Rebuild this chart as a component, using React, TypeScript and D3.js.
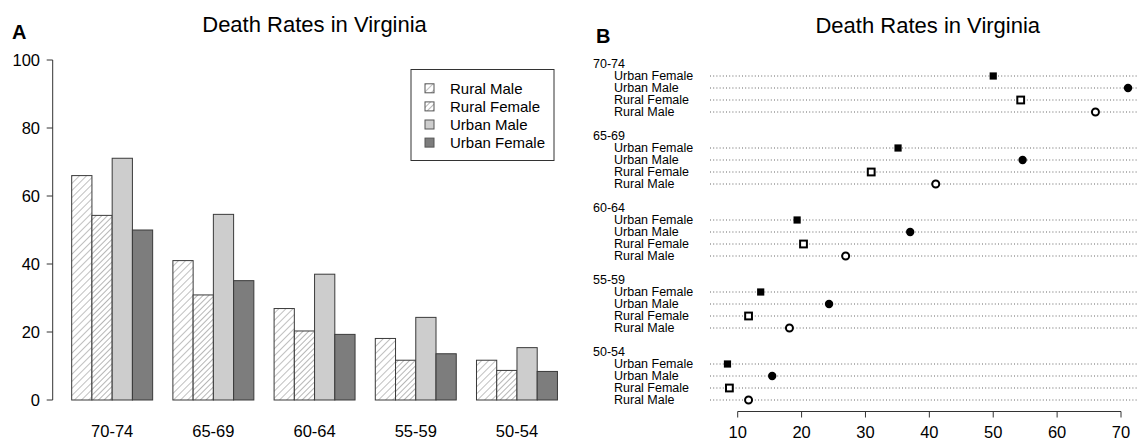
import React from "react";
import * as d3 from "d3";

const ageGroups = ["70-74", "65-69", "60-64", "55-59", "50-54"];
const seriesNames = ["Rural Male", "Rural Female", "Urban Male", "Urban Female"];
const ruralMale = [66.0, 41.0, 26.9, 18.1, 11.7];
const ruralFemale = [54.3, 30.9, 20.3, 11.7, 8.7];
const urbanMale = [71.1, 54.6, 37.0, 24.3, 15.4];
const urbanFemale = [50.0, 35.1, 19.3, 13.6, 8.4];
const barTicks = [0, 20, 40, 60, 80, 100];
const dotTicks = [10, 20, 30, 40, 50, 60, 70];
const dotOrder = ["Urban Female", "Urban Male", "Rural Female", "Rural Male"];

const FONT = "'Liberation Sans', Arial, Helvetica, sans-serif";

const seriesValues: Record<string, number[]> = {
  "Rural Male": ruralMale,
  "Rural Female": ruralFemale,
  "Urban Male": urbanMale,
  "Urban Female": urbanFemale,
};

const fills: Record<string, string> = {
  "Rural Male": "url(#hatchRM)",
  "Rural Female": "url(#hatchRF)",
  "Urban Male": "#cdcdcd",
  "Urban Female": "#7d7d7d",
};

export default function App() {
  // Panel A scales
  const ux = d3.scaleLinear().domain([0, 25]).range([51.45, 51.45 + 25 * 20.24]);
  const yA = d3.scaleLinear().domain([0, 100]).range([400, 60]);
  const axisXA = 52.7;

  // Panel B scales
  const xB = d3.scaleLinear().domain([10, 70]).range([737.7, 1121]);
  const rowY = d3.scaleLinear().domain([0, 1]).range([76, 88]);
  const lineLeft = 710;
  const lineRight = 1137;
  const axisYB = 411.5;

  const bars: React.ReactNode[] = [];
  ageGroups.forEach((g, gi) => {
    seriesNames.forEach((s, si) => {
      const v = seriesValues[s][gi];
      const u0 = 1 + gi * 5 + si;
      bars.push(
        <rect
          key={`${g}-${s}`}
          x={ux(u0)}
          y={yA(v)}
          width={ux(u0 + 1) - ux(u0)}
          height={yA(0) - yA(v)}
          fill={fills[s]}
          stroke="#3a3a3a"
          strokeWidth={1}
        />
      );
    });
  });

  const marker = (s: string, cx: number, cy: number, key: string) => {
    switch (s) {
      case "Urban Female":
        return <rect key={key} x={cx - 3.6} y={cy - 3.6} width={7.2} height={7.2} fill="#000" />;
      case "Urban Male":
        return <circle key={key} cx={cx} cy={cy} r={4.2} fill="#000" />;
      case "Rural Female":
        return (
          <rect key={key} x={cx - 3.4} y={cy - 3.4} width={6.8} height={6.8} fill="#fff" stroke="#000" strokeWidth={2} />
        );
      default:
        return <circle key={key} cx={cx} cy={cy} r={3.5} fill="#fff" stroke="#000" strokeWidth={2} />;
    }
  };

  const dotRows: React.ReactNode[] = [];
  ageGroups.forEach((g, gi) => {
    const labelY = rowY(gi * 6 - 1);
    dotRows.push(
      <text key={`gl-${g}`} x={593} y={labelY} dy="0.35em" fontSize={12.5} fontFamily={FONT}>
        {g}
      </text>
    );
    dotOrder.forEach((s, k) => {
      const y = rowY(gi * 6 + k);
      dotRows.push(
        <g key={`row-${g}-${s}`}>
          <text x={614} y={y} dy="0.35em" fontSize={12.5} fontFamily={FONT} fill="#000">
            {s}
          </text>
          <line x1={lineLeft} x2={lineRight} y1={y} y2={y} stroke="#666" strokeWidth={1} strokeDasharray="1,2.2" />
          {marker(s, xB(seriesValues[s][gi]), y, `m-${g}-${s}`)}
        </g>
      );
    });
  });

  return (
    <svg
      width={1137}
      height={439}
      style={{ position: "absolute", left: 0, top: 0, background: "#fff" }}
      fontFamily={FONT}
    >
      <defs>
        <pattern id="hatchRM" patternUnits="userSpaceOnUse" width={5} height={5} patternTransform="rotate(45)">
          <rect width={5} height={5} fill="#fff" />
          <line x1={0} y1={0} x2={0} y2={5} stroke="#8c8c8c" strokeWidth={1.1} />
        </pattern>
        <pattern id="hatchRF" patternUnits="userSpaceOnUse" width={4} height={4} patternTransform="rotate(45)">
          <rect width={4} height={4} fill="#fff" />
          <line x1={0} y1={0} x2={0} y2={4} stroke="#7a7a7a" strokeWidth={1.1} />
        </pattern>
      </defs>
      <rect width={1137} height={439} fill="#fff" />

      {/* Panel A */}
      <text x={12} y={39} fontSize={20} fontWeight="bold">A</text>
      <text x={(ux(0.04) + ux(25.96)) / 2} y={32} fontSize={22} textAnchor="middle">
        Death Rates in Virginia
      </text>
      <line x1={axisXA} x2={axisXA} y1={yA(0)} y2={yA(100)} stroke="#333" strokeWidth={1} />
      {barTicks.map((t) => (
        <g key={`yt-${t}`}>
          <line x1={axisXA - 6} x2={axisXA} y1={yA(t)} y2={yA(t)} stroke="#333" strokeWidth={1} />
          <text x={40} y={yA(t)} dy="0.36em" fontSize={16.5} textAnchor="end">
            {t}
          </text>
        </g>
      ))}
      {bars}
      {ageGroups.map((g, gi) => (
        <text key={`xl-${g}`} x={ux(1 + gi * 5 + 2)} y={437} fontSize={16.5} textAnchor="middle">
          {g}
        </text>
      ))}
      {/* Legend */}
      <rect x={411} y={69.5} width={143} height={91} fill="#fff" stroke="#333" strokeWidth={1} />
      {seriesNames.map((s, i) => {
        const cy = 88.3 + i * 18.1;
        return (
          <g key={`lg-${s}`}>
            <rect x={425} y={cy - 4.5} width={9} height={9} fill={fills[s]} stroke="#555" strokeWidth={1} />
            <text x={450} y={cy} dy="0.36em" fontSize={15}>
              {s}
            </text>
          </g>
        );
      })}

      {/* Panel B */}
      <text x={596} y={43} fontSize={20} fontWeight="bold">B</text>
      <text x={927.8} y={33} fontSize={22} textAnchor="middle">
        Death Rates in Virginia
      </text>
      {dotRows}
      <line x1={xB(10)} x2={xB(70)} y1={axisYB} y2={axisYB} stroke="#333" strokeWidth={1} />
      {dotTicks.map((t) => (
        <g key={`xt-${t}`}>
          <line x1={xB(t)} x2={xB(t)} y1={axisYB} y2={axisYB + 6} stroke="#333" strokeWidth={1} />
          <text x={xB(t)} y={437.5} fontSize={16.5} textAnchor="middle">
            {t}
          </text>
        </g>
      ))}
    </svg>
  );
}
